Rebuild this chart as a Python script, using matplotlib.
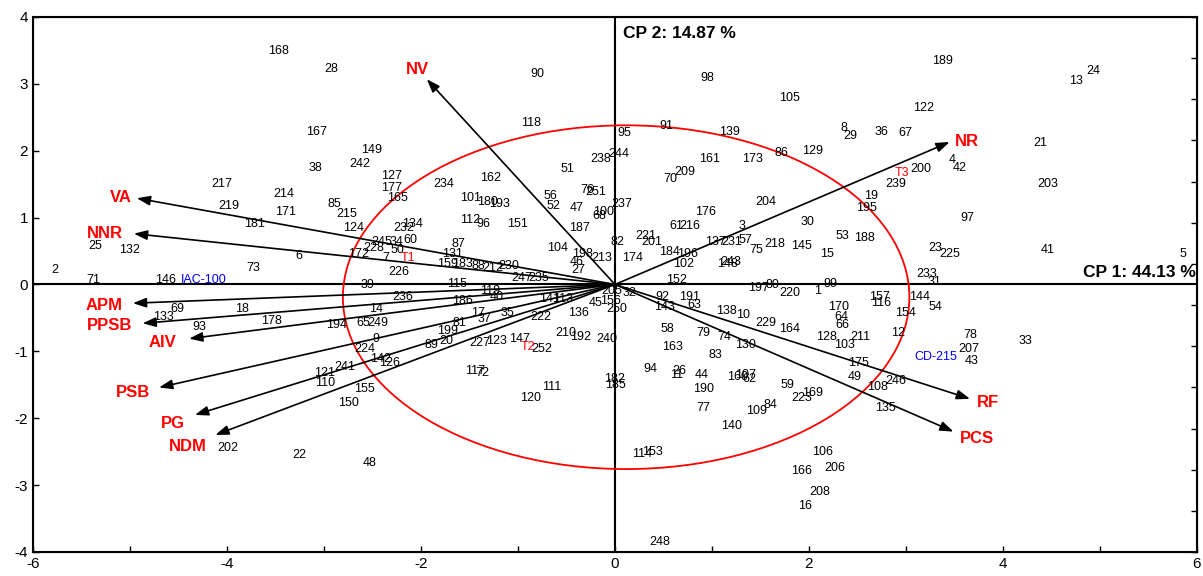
import numpy as np
import matplotlib
matplotlib.use("Agg")
import matplotlib.pyplot as plt
from matplotlib.patches import Ellipse
from matplotlib.ticker import FuncFormatter

plt.rcParams['font.family'] = ['Liberation Sans', 'DejaVu Sans']
plt.rcParams['axes.unicode_minus'] = False

# genotipos (scores CP1, CP2)
pt_labels = [
    "168", "28", "90", "118", "167", "149", "38", "242", "127", "177", "165", "234", "162", "51",
    "238", "244", "95", "91", "98", "105", "139", "161", "173", "86", "129", "8", "29", "36", "67",
    "70", "209", "239", "19", "189", "24", "13", "122", "21", "4", "42", "200", "203", "217", "214",
    "219", "171", "181", "25", "132", "6", "73", "2", "71", "146", "69", "18", "133", "178", "93",
    "85", "215", "124", "101", "180", "193", "112", "96", "151", "56", "52", "47", "68", "100",
    "76", "251", "187", "232", "134", "245", "34", "60", "228", "50", "172", "7", "226", "87", "131",
    "159", "183", "88", "212", "230", "247", "235", "104", "198", "213", "46", "27", "39", "115",
    "119", "40", "236", "186", "14", "17", "35", "37", "141", "113", "194", "65", "249", "81", "222",
    "136", "199", "9", "89", "20", "227", "123", "147", "252", "210", "192", "240", "224", "142",
    "126", "121", "241", "110", "117", "72", "155", "111", "120", "150", "48", "22", "202",
    "237", "204", "195", "176", "30", "61", "216", "3", "53", "188", "221", "201", "137", "231",
    "57", "218", "145", "75", "82", "174", "184", "196", "102", "15", "148", "243", "152", "197",
    "80", "220", "1", "99", "157", "116", "92", "191", "63", "143", "205", "32", "45", "156", "250",
    "138", "10", "170", "64", "66", "229", "164", "58", "79", "74", "128", "211", "12", "103", "163",
    "130", "83", "175", "94", "26", "11", "44", "160", "107", "62", "49", "108", "246", "59", "182",
    "185", "97", "23", "225", "41", "5", "233", "31", "144", "54", "154", "78", "207", "43", "33",
    "190", "77", "223", "169", "84", "109", "140", "135", "114", "153", "106", "206", "166", "208",
    "16", "248",
]
pt_x = [
    -3.47, -2.92, -0.80, -0.87, -3.08, -2.51, -3.09, -2.63, -2.30, -2.30, -2.24, -1.77, -1.28, -0.49,
    -0.15, 0.04, 0.10, 0.53, 0.95, 1.80, 1.18, 0.97, 1.42, 1.72, 2.04, 2.36, 2.43, 2.75, 2.99,
    0.57, 0.72, 2.89, 2.64, 3.38, 4.93, 4.75, 3.18, 4.39, 3.48, 3.55, 3.15, 4.46, -4.05, -3.41,
    -3.98, -3.40, -3.72, -5.36, -5.00, -3.26, -3.73, -5.77, -5.38, -4.63, -4.51, -3.84, -4.66, -3.54, -4.29,
    -2.89, -2.77, -2.70, -1.49, -1.31, -1.19, -1.49, -1.36, -1.01, -0.66, -0.63, -0.39, -0.16, -0.12,
    -0.28, -0.20, -0.37, -2.18, -2.09, -2.40, -2.25, -2.11, -2.49, -2.24, -2.64, -2.36, -2.23, -1.61, -1.67,
    -1.73, -1.57, -1.41, -1.26, -1.10, -0.96, -0.79, -0.59, -0.33, -0.14, -0.39, -0.38, -2.55, -1.63,
    -1.29, -1.22, -2.19, -1.57, -2.46, -1.41, -1.11, -1.34, -0.67, -0.54, -2.87, -2.59, -2.44, -1.60, -0.76,
    -0.38, -1.73, -2.47, -1.89, -1.74, -1.39, -1.22, -0.98, -0.75, -0.51, -0.35, -0.08, -2.58, -2.42,
    -2.32, -2.99, -2.78, -2.99, -1.44, -1.37, -2.58, -0.65, -0.87, -2.75, -2.53, -3.25, -3.99,
    0.07, 1.56, 2.59, 0.93, 1.98, 0.63, 0.77, 1.31, 2.34, 2.57, 0.32, 0.38, 1.04, 1.20,
    1.34, 1.65, 1.92, 1.46, 0.03, 0.18, 0.56, 0.75, 0.71, 2.19, 1.16, 1.19, 0.63, 1.48,
    1.62, 1.80, 2.09, 2.22, 2.73, 2.74, 0.49, 0.77, 0.82, 0.51, -0.03, 0.15, -0.20, -0.05, 0.02,
    1.15, 1.32, 2.30, 2.33, 2.34, 1.56, 1.80, 0.54, 0.91, 1.13, 2.18, 2.53, 2.92, 2.37, 0.59,
    1.35, 1.04, 2.51, 0.37, 0.66, 0.64, 0.89, 1.26, 1.35, 1.39, 2.47, 2.71, 2.90, 1.78, 0.00,
    0.00, 3.63, 3.30, 3.45, 4.46, 5.86, 3.21, 3.29, 3.14, 3.30, 2.99, 3.66, 3.65, 3.68, 4.23,
    0.91, 0.91, 1.93, 2.04, 1.60, 1.46, 1.20, 2.79, 0.28, 0.39, 2.14, 2.27, 1.92, 2.11,
    1.96, 0.46,
]
pt_y = [
    3.49, 3.22, 3.15, 2.41, 2.28, 2.01, 1.74, 1.80, 1.62, 1.44, 1.29, 1.51, 1.59, 1.72,
    1.87, 1.95, 2.26, 2.37, 3.09, 2.79, 2.28, 1.87, 1.87, 1.96, 1.99, 2.34, 2.22, 2.28, 2.26,
    1.57, 1.68, 1.50, 1.33, 3.34, 3.19, 3.04, 2.64, 2.11, 1.86, 1.74, 1.72, 1.51, 1.50, 1.35,
    1.17, 1.09, 0.90, 0.57, 0.51, 0.42, 0.25, 0.22, 0.07, 0.06, -0.36, -0.36, -0.49, -0.54, -0.64,
    1.20, 1.06, 0.84, 1.29, 1.23, 1.20, 0.97, 0.91, 0.90, 1.32, 1.18, 1.14, 1.03, 1.09,
    1.41, 1.39, 0.84, 0.84, 0.91, 0.64, 0.63, 0.66, 0.54, 0.51, 0.45, 0.39, 0.18, 0.61, 0.46,
    0.30, 0.30, 0.28, 0.25, 0.28, 0.09, 0.09, 0.54, 0.45, 0.40, 0.33, 0.21, -0.01, 0.01,
    -0.09, -0.19, -0.19, -0.24, -0.37, -0.42, -0.42, -0.51, -0.21, -0.21, -0.61, -0.58, -0.57, -0.57, -0.49,
    -0.42, -0.70, -0.81, -0.90, -0.85, -0.87, -0.84, -0.82, -0.97, -0.72, -0.79, -0.81, -0.97, -1.12,
    -1.17, -1.33, -1.24, -1.48, -1.29, -1.32, -1.57, -1.53, -1.69, -1.77, -2.67, -2.55, -2.44,
    1.20, 1.24, 1.15, 1.08, 0.93, 0.87, 0.87, 0.87, 0.72, 0.70, 0.73, 0.64, 0.63, 0.63,
    0.66, 0.61, 0.58, 0.51, 0.63, 0.40, 0.49, 0.45, 0.31, 0.46, 0.31, 0.33, 0.06, -0.06,
    -0.01, -0.13, -0.10, 0.00, -0.18, -0.28, -0.18, -0.18, -0.30, -0.34, -0.10, -0.12, -0.27, -0.25, -0.36,
    -0.40, -0.45, -0.34, -0.48, -0.60, -0.57, -0.67, -0.66, -0.72, -0.79, -0.78, -0.79, -0.72, -0.91, -0.93,
    -0.91, -1.06, -1.17, -1.26, -1.30, -1.36, -1.36, -1.38, -1.36, -1.41, -1.39, -1.53, -1.45, -1.50, -1.42,
    -1.50, 1.00, 0.54, 0.45, 0.51, 0.45, 0.15, 0.04, -0.19, -0.33, -0.43, -0.76, -0.97, -1.14, -0.85,
    -1.56, -1.84, -1.69, -1.62, -1.80, -1.89, -2.11, -1.84, -2.53, -2.50, -2.50, -2.74, -2.79, -3.10,
    -3.31, -3.85,
]

# testemunhas e tratamentos
ref_labels = ["IAC-100", "CD-215"]
ref_x = [-4.24, 3.31]
ref_y = [0.06, -1.08]
t_labels = ["T1", "T2", "T3"]
t_x = [-2.13, -0.90, 2.96]
t_y = [0.40, -0.94, 1.66]

# variaveis (vetores)
var_names = ["NV", "NR", "VA", "NNR", "APM", "PPSB", "AIV", "PSB", "PG", "NDM", "RF", "PCS"]
var_x = [-1.94, 3.45, -4.93, -4.96, -4.97, -4.87, -4.39, -4.70, -4.33, -4.12, 3.66, 3.49]
var_y = [3.07, 2.13, 1.29, 0.76, -0.28, -0.58, -0.81, -1.54, -1.95, -2.25, -1.71, -2.20]
var_lab_x = [-2.04, 3.63, -5.09, -5.26, -5.27, -5.21, -4.66, -4.97, -4.56, -4.40, 3.85, 3.73]
var_lab_y = [3.22, 2.14, 1.30, 0.76, -0.31, -0.61, -0.87, -1.62, -2.08, -2.43, -1.77, -2.31]

fig = plt.figure(figsize=(12.03, 5.76), dpi=100)
ax = fig.add_axes([0.0274, 0.0417, 0.9676, 0.9288])
ax.set_xlim(-6, 6)
ax.set_ylim(-4, 4)

ax.axhline(0, color="black", lw=1.5, zorder=1)
ax.axvline(0, color="black", lw=1.5, zorder=1)

ell = Ellipse((0.115, -0.19), width=5.84, height=5.14, edgecolor="red", facecolor="none", lw=1.3, zorder=2)
ax.add_patch(ell)

for i in range(len(var_names)):
    ax.annotate("", xy=(var_x[i], var_y[i]), xytext=(0, 0),
                arrowprops=dict(arrowstyle="-|>,head_length=0.5,head_width=0.18", color="black", lw=1.2,
                                mutation_scale=16, shrinkA=0, shrinkB=0), zorder=3)
    ax.text(var_lab_x[i], var_lab_y[i], var_names[i], color="red", fontsize=12,
            fontweight="bold", ha="center", va="center")

for lab, x, y in zip(pt_labels, pt_x, pt_y):
    ax.text(x, y, lab, fontsize=9, ha="center", va="center", color="black")
for lab, x, y in zip(ref_labels, ref_x, ref_y):
    ax.text(x, y, lab, fontsize=9, ha="center", va="center", color="blue")
for lab, x, y in zip(t_labels, t_x, t_y):
    ax.text(x, y, lab, fontsize=9, ha="center", va="center", color="red")

ax.text(5.99, 0.18, "CP 1: 44.13 %", fontsize=12.5, fontweight="bold", ha="right", va="center")
ax.text(0.08, 3.76, "CP 2: 14.87 %", fontsize=12.5, fontweight="bold", ha="left", va="center")

ax.set_xticks(np.arange(-6, 7, 1))
ax.xaxis.set_major_formatter(FuncFormatter(lambda v, p: "%d" % v if int(round(v)) % 2 == 0 else ""))
ax.set_yticks(np.arange(-4, 5, 1))
ax.tick_params(direction="in", length=4, width=1, labelsize=11, top=False, right=False)
for s in ax.spines.values():
    s.set_linewidth(1.5)

ax2 = ax.twinx()
ax2.set_ylim(-1.3, 1.3)
ax2.set_yticks(np.arange(-1.3, 1.31, 0.2))
ax2.set_yticklabels([])
ax2.tick_params(direction="in", length=4, width=1)

plt.savefig("out.png", dpi=100)
